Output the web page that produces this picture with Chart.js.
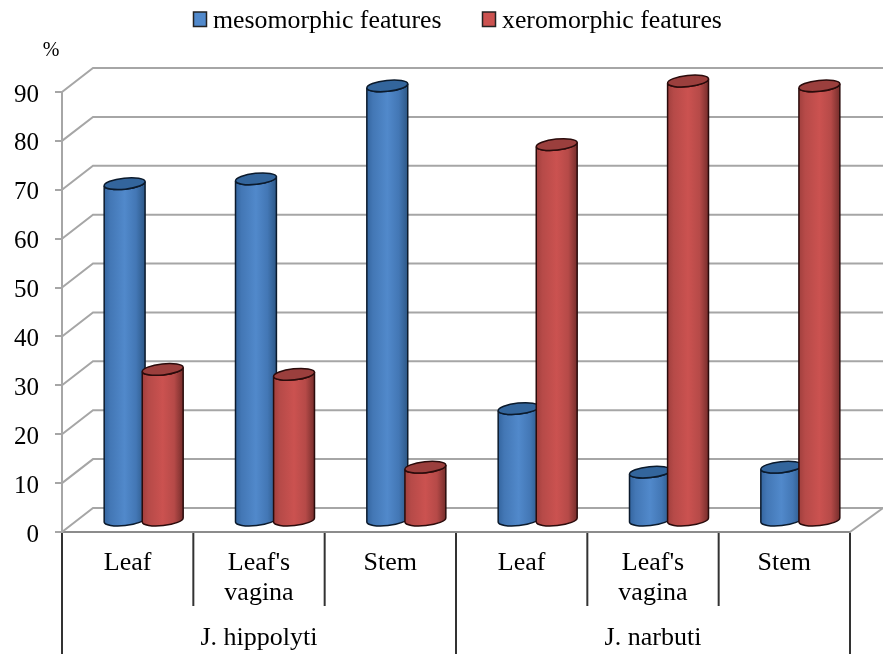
<!DOCTYPE html>
<html>
<head>
<meta charset="utf-8">
<script src="https://cdn.jsdelivr.net/npm/chart.js@4"></script>
<style>
  html, body { margin: 0; padding: 0; background: #fff; }
  #wrap { width: 883px; height: 654px; }
</style>
</head>
<body>
<div id="wrap"><canvas id="chart"></canvas></div>
<script>
const categories = ["Leaf", ["Leaf's", "vagina"], "Stem", "Leaf", ["Leaf's", "vagina"], "Stem"];
const groups = ["J. hippolyti", "J. narbuti"];
const mesomorphic = [69, 70, 89, 23, 10, 11];
const xeromorphic = [31, 30, 11, 77, 90, 89];
const seriesNames = ["mesomorphic features", "xeromorphic features"];

const SERIF = '"Liberation Serif", serif';
const DEPTH_X = 31, DEPTH_Y = 24; // size of the fake 3D box
const TILT = -6 * Math.PI / 180;

// colours of the cylinders: left edge, soft edge, middle, right edge, lid, outline
const blue = { left: "#34659f", soft: "#4377b5", mid: "#5189cb", right: "#2c5786", lid: "#33659c", line: "#0b1a2c" };
const red = { left: "#a03f3d", soft: "#b64a48", mid: "#cb5250", right: "#752d2b", lid: "#9b3f3d", line: "#2a0b0b" };

function drawCylinder(ctx, bar, c) {
  const rx = bar.width * 1.08 / 2, ry = 5.5;
  const cx = bar.x + DEPTH_X / 2 + 0.5;
  const top = bar.y - 11, bottom = bar.base - 11;
  const ox = rx * Math.cos(TILT), oy = rx * Math.sin(TILT);

  const grad = ctx.createLinearGradient(cx - rx, 0, cx + rx, 0);
  grad.addColorStop(0, c.left);
  grad.addColorStop(0.15, c.soft);
  grad.addColorStop(0.5, c.mid);
  grad.addColorStop(0.78, c.soft);
  grad.addColorStop(1, c.right);

  ctx.lineWidth = 1.5;
  ctx.strokeStyle = c.line;

  // body
  ctx.beginPath();
  ctx.moveTo(cx - ox, top - oy);
  ctx.lineTo(cx - ox, bottom - oy);
  ctx.ellipse(cx, bottom, rx, ry, TILT, Math.PI, 0, true);
  ctx.lineTo(cx + ox, top + oy);
  ctx.ellipse(cx, top, rx, ry, TILT, 0, Math.PI, false);
  ctx.closePath();
  ctx.fillStyle = grad;
  ctx.fill();
  ctx.stroke();

  // lid
  ctx.beginPath();
  ctx.ellipse(cx, top, rx, ry, TILT, 0, Math.PI * 2);
  ctx.fillStyle = c.lid;
  ctx.fill();
  ctx.stroke();
}

const box3d = {
  id: "box3d",
  // back wall and floor go under the bars
  beforeDatasetsDraw(chart) {
    const { ctx, scales: { x, y } } = chart;
    ctx.save();
    ctx.strokeStyle = "#a6a6a6";
    ctx.lineWidth = 2;
    y.ticks.forEach((t) => {
      const py = y.getPixelForValue(t.value);
      ctx.beginPath();
      ctx.moveTo(x.left, py);
      ctx.lineTo(x.left + DEPTH_X, py - DEPTH_Y);
      ctx.lineTo(chart.width, py - DEPTH_Y);
      ctx.stroke();
    });
    ctx.beginPath();
    ctx.moveTo(x.right, y.bottom);
    ctx.lineTo(chart.width, y.bottom - DEPTH_Y);
    ctx.stroke();

    // red goes over blue
    [0, 1].forEach((i) => {
      chart.getDatasetMeta(i).data.forEach((bar) => drawCylinder(ctx, bar, i === 0 ? blue : red));
    });
    ctx.restore();
  },
  beforeDatasetDraw() {
    return false; // default rectangles are replaced by the cylinders
  },
  afterDraw(chart) {
    const { ctx, scales: { x, y } } = chart;
    ctx.save();

    // separators of the two level axis
    const edge = (i) => x.left + i * (x.right - x.left) / categories.length;
    ctx.strokeStyle = "#333";
    ctx.lineWidth = 2;
    categories.concat([""]).forEach((c, i) => {
      const long = i % 3 === 0;
      ctx.beginPath();
      ctx.moveTo(edge(i), y.bottom + 1);
      ctx.lineTo(edge(i), long ? chart.height : 606);
      ctx.stroke();
    });

    ctx.fillStyle = "#000";
    ctx.textBaseline = "middle";
    ctx.textAlign = "center";
    ctx.font = "26px " + SERIF;
    groups.forEach((g, i) => ctx.fillText(g, edge(i * 3 + 1.5), 638));

    ctx.font = "20px " + SERIF;
    ctx.fillText("%", 51, 51);

    // legend
    ctx.textAlign = "left";
    ctx.textBaseline = "alphabetic";
    ctx.font = "25.8px " + SERIF;
    [[193, 213, blue], [482, 502, red]].forEach(([boxX, textX, c], i) => {
      ctx.fillStyle = c.mid;
      ctx.strokeStyle = "#222";
      ctx.lineWidth = 1.5;
      ctx.beginPath();
      ctx.rect(boxX + 0.5, 12, 13, 14.5);
      ctx.fill();
      ctx.stroke();
      ctx.fillStyle = "#000";
      ctx.fillText(seriesNames[i], textX, 28);
    });
    ctx.restore();
  }
};

new Chart(document.getElementById("chart"), {
  type: "bar",
  data: {
    labels: categories,
    datasets: [
      { label: seriesNames[0], data: mesomorphic, backgroundColor: blue.mid },
      { label: seriesNames[1], data: xeromorphic, backgroundColor: red.mid }
    ]
  },
  options: {
    responsive: true,
    maintainAspectRatio: false,
    animation: false,
    categoryPercentage: 0.58,
    barPercentage: 1,
    layout: { autoPadding: false, padding: { top: 92, right: 33, bottom: 0, left: 0 } },
    plugins: { legend: { display: false }, tooltip: { enabled: false } },
    scales: {
      x: {
        afterFit: (s) => { s.height = 122; },
        border: { color: "#8c8c8c", width: 2 },
        grid: { drawOnChartArea: false, drawTicks: false },
        ticks: {
          color: "#000",
          padding: 16,
          autoSkip: false,
          maxRotation: 0,
          font: { family: SERIF, size: 26, lineHeight: "30px" }
        }
      },
      y: {
        min: 0,
        max: 90,
        afterFit: (s) => { s.width = 62; },
        border: { color: "#a6a6a6", width: 2 },
        grid: { drawOnChartArea: false, color: "#a6a6a6", lineWidth: 2, tickLength: 7 },
        ticks: {
          stepSize: 10,
          color: "#000",
          padding: 16,
          labelOffset: 3,
          font: { family: SERIF, size: 25 }
        }
      }
    }
  },
  plugins: [box3d]
});
</script>
</body>
</html>
